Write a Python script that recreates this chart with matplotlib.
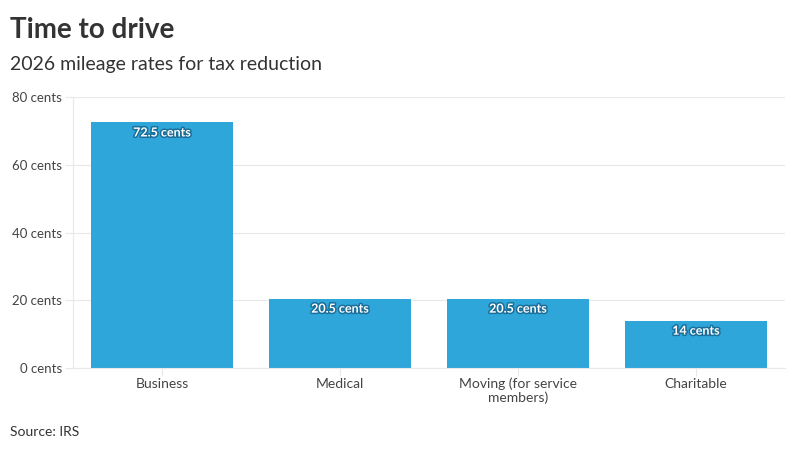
import matplotlib
matplotlib.use("Agg")
import matplotlib.pyplot as plt
import matplotlib.patheffects as pe

categories = ["Business", "Medical", "Moving (for service\nmembers)", "Charitable"]
rates = [72.5, 20.5, 20.5, 14]
bar_labels = ["72.5 cents", "20.5 cents", "20.5 cents", "14 cents"]
yticks = [0, 20, 40, 60, 80]

plt.rcParams["font.family"] = ["Lato", "DejaVu Sans"]

fig = plt.figure(figsize=(8, 4.5), dpi=100)
ax = fig.add_axes([0.09125, 0.1822, 0.89, 0.6022])

x = range(len(categories))
bars = ax.bar(x, rates, width=0.8, color="#2fa6d9", zorder=2)

for b, lab in zip(bars, bar_labels):
    ax.text(b.get_x() + b.get_width() / 2, b.get_height() - 1.2, lab,
            ha="center", va="top", fontsize=9, fontweight="bold", color="white",
            path_effects=[pe.withStroke(linewidth=2.2, foreground="#1a6f9a")], zorder=3)

ax.set_xlim(-0.5, len(categories) - 0.5)
ax.set_ylim(0, 80)
ax.set_yticks(yticks)
ax.set_yticklabels([f"{v} cents" for v in yticks])
ax.set_xticks(list(x))
ax.set_xticklabels(categories, linespacing=1.15)
ax.grid(axis="y", color="#e8e8e8", linewidth=0.8, zorder=0)
for s in ["top", "right"]:
    ax.spines[s].set_visible(False)
ax.spines["left"].set_color("#e8e8e8")
ax.spines["bottom"].set_color("#e8e8e8")
ax.tick_params(axis="y", length=6, color="#e8e8e8", labelsize=9.5, labelcolor="#444444", pad=2)
ax.tick_params(axis="x", length=6, color="#e8e8e8", labelsize=10, labelcolor="#444444", pad=1)

fig.text(0.0125, 0.9156, "Time to drive", fontsize=20, fontweight="bold", color="#333333", va="baseline")
fig.text(0.0125, 0.8444, "2026 mileage rates for tax reduction", fontsize=14, color="#333333", va="baseline")
fig.text(0.0125, 0.03, "Source: IRS", fontsize=10, color="#333333", va="baseline")

fig.savefig("out.png", dpi=100)
